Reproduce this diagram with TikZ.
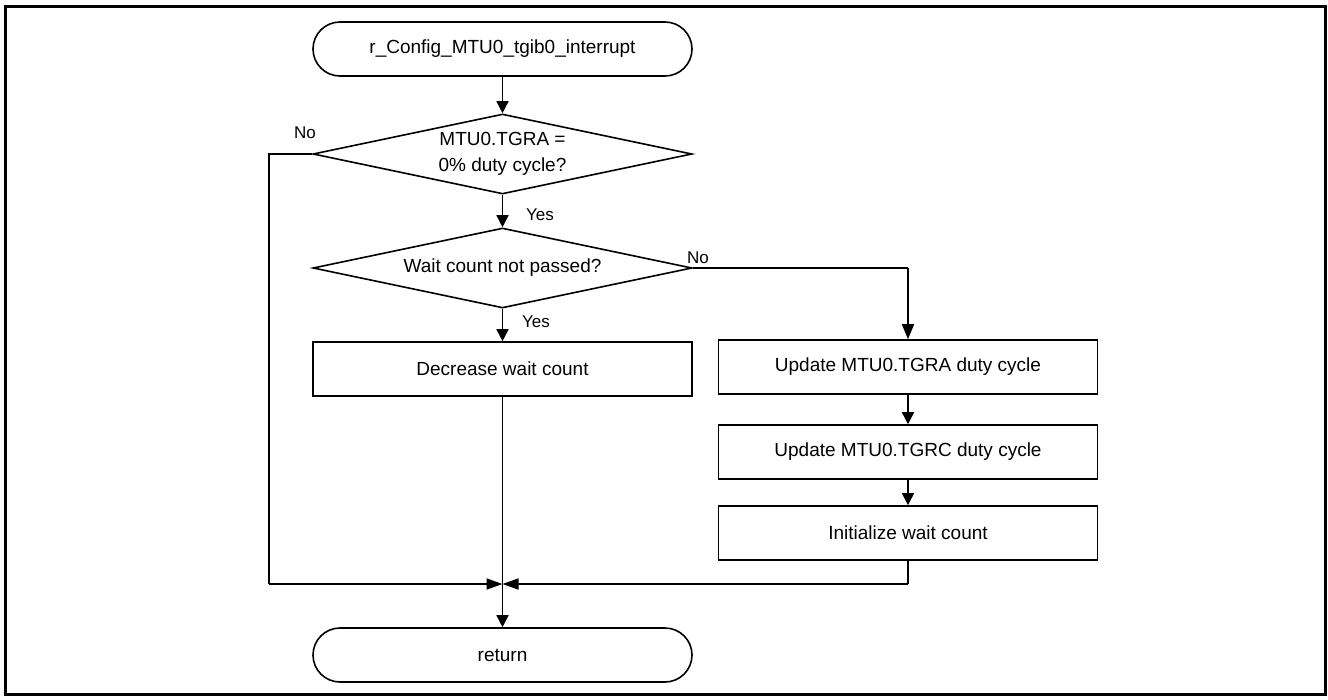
\documentclass[tikz,border=0pt]{standalone}
\usepackage{fontspec}
\setmainfont{Liberation Sans}
\usetikzlibrary{shapes.geometric,arrows.meta}
\tikzset{
  base/.style={draw, line width=1.6pt, inner sep=0pt, font=\fontsize{19}{23}\selectfont, align=center},
  term/.style={base, rectangle, rounded corners=27pt, minimum width=379pt, minimum height=54pt},
  procbox/.style={base, rectangle, minimum width=379pt, minimum height=54pt},
  decision/.style={base, diamond, aspect=4.7375, minimum width=379pt, minimum height=80pt},
  conn/.style={line width=1.6pt},
  arr/.style={conn, -{Triangle[length=12pt,width=12pt]}},
  lbl/.style={font=\fontsize{17}{20}\selectfont, inner sep=0pt}
}
\begin{document}
\begin{tikzpicture}[x=1pt,y=-1pt]
\useasboundingbox (0,0) rectangle (1328,699);
\fill[white] (0,0) rectangle (1328,699);
\draw[line width=3pt] (5,6) rectangle (1325,694);

\node[term] (start) at (502.5,49) {r\_Config\_MTU0\_tgib0\_interrupt};
\node[decision] (d1) at (502.5,154) {MTU0.TGRA =\\[3pt]0\% duty cycle?};
\node[decision] (d2) at (502.5,268) {Wait count not passed?};
\node[procbox] (dec) at (502.5,369) {Decrease wait count};
\node[procbox] (tgra) at (908,367) {Update MTU0.TGRA duty cycle};
\node[procbox] (tgrc) at (908,452) {Update MTU0.TGRC duty cycle};
\node[procbox] (init) at (908,533) {Initialize wait count};
\node[term] (ret) at (502.5,655) {return};

\coordinate (m) at (502.5,584);
\coordinate (lc1) at (269,154);
\coordinate (lc2) at (269,584);
\coordinate (rc1) at (908,268);
\coordinate (rc2) at (908,584);

\draw[arr] (start.south) -- (d1.north);
\draw[arr] (d1.south) -- (d2.north);
\draw[arr] (d2.south) -- (dec.north);
\draw[conn] (d2.east) -- (rc1);
\draw[arr,-{Triangle[length=15pt,width=12pt]}] (rc1) -- (tgra.north);
\draw[arr] (tgra.south) -- (tgrc.north);
\draw[arr] (tgrc.south) -- (init.north);
\draw[conn] (d1.west) -- (lc1) -- (lc2);
\draw[arr,-{Triangle[length=16pt,width=11pt]}] (lc2) -- (m);
\draw[conn] (init.south) -- (rc2);
\draw[arr,-{Triangle[length=16pt,width=11pt]}] (rc2) -- (m);
\draw[arr] (dec.south) -- (ret.north);

\node[lbl] (no1) at (305,133) {No};
\node[lbl] (no2) at (698,258) {No};
\node[lbl] (yes1) at (540,214.5) {Yes};
\node[lbl] (yes2) at (536,322) {Yes};
\end{tikzpicture}
\end{document}
